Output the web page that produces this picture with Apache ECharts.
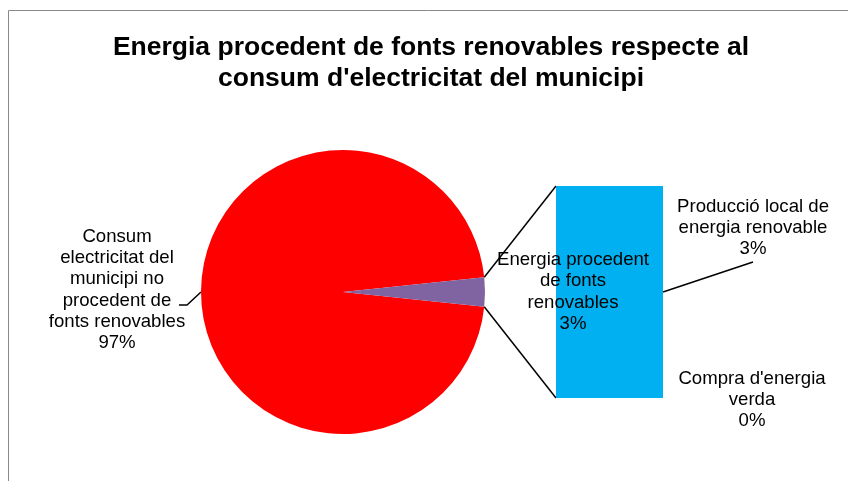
<!DOCTYPE html>
<html>
<head>
<meta charset="utf-8">
<script src="https://cdn.jsdelivr.net/npm/echarts@6/dist/echarts.min.js"></script>
<style>
  html, body { margin: 0; padding: 0; background: #fff; }
  #main { width: 848px; height: 481px; }
</style>
</head>
<body>
<div id="main"></div>
<script>
// dades
var titleText = "Energia procedent de fonts renovables respecte al\nconsum d'electricitat del municipi";
var pieNames = ['Consum\nelectricitat del\nmunicipi no\nprocedent de\nfonts renovables', 'Energia procedent\nde fonts\nrenovables'];
var pieValues = [96.7, 3.3];
var barNames = ['Producció local de\nenergia renovable', "Compra d'energia\nverda"];
var barValues = [3.3, 0];

var FONT = "'Liberation Sans', Arial, sans-serif";
var CX = 343, CY = 292, R = 142;
var BAR = { left: 556, top: 186, width: 107, height: 212 };

var total = pieValues[0] + pieValues[1];
var smallAngle = pieValues[1] / total * 360;
var startAngle = smallAngle / 2 + pieValues[0] / total * 360;

function pct(v) { return Math.round(v / total * 100) + '%'; }

var myChart = echarts.init(document.getElementById('main'));

// linies que uneixen el pastis amb la barra
var a = smallAngle / 2 * Math.PI / 180;
var pTop = [CX + R * Math.cos(a), CY - R * Math.sin(a)];
var pBot = [CX + R * Math.cos(a), CY + R * Math.sin(a)];

var option = {
  animation: false,
  title: {
    text: titleText,
    left: 431,
    top: 32,
    padding: 0,
    textAlign: 'center',
    textStyle: { fontFamily: FONT, fontSize: 26.5, fontWeight: 'bold', lineHeight: 31, color: '#000' }
  },
  grid: { left: BAR.left, top: BAR.top, width: BAR.width, height: BAR.height },
  xAxis: { type: 'category', data: ['a'], show: false },
  yAxis: { type: 'value', min: 0, max: barValues[0] + barValues[1], show: false },
  series: [
    {
      type: 'pie',
      center: [CX, CY],
      radius: R,
      startAngle: startAngle,
      clockwise: true,
      avoidLabelOverlap: false,
      data: [
        { name: pieNames[0], value: pieValues[0], itemStyle: { color: '#FF0000' } },
        { name: pieNames[1], value: pieValues[1], itemStyle: { color: '#8064A2' }, labelLine: { show: false } }
      ],
      label: {
        show: true,
        position: 'outside',
        formatter: function (p) { return p.name + '\n' + pct(p.value); },
        fontFamily: FONT, fontSize: 18.6, lineHeight: 21.3, color: '#000', align: 'center'
      },
      labelLine: { show: true, length: 10, length2: 10, lineStyle: { color: '#000', width: 1.5 } },
      labelLayout: function (p) {
        if (p.dataIndex === 0) {
          var p0 = p.labelLinePoints ? p.labelLinePoints[0] : [CX - R, CY];
          return {
            x: 117, y: 290, align: 'center', verticalAlign: 'middle',
            labelLinePoints: [p0, [p0[0] - 14, p0[1] + 13], [p0[0] - 22, p0[1] + 13]]
          };
        }
        return { x: 573, y: 292, align: 'center', verticalAlign: 'middle' };
      }
    },
    {
      type: 'bar',
      stack: 'r',
      name: barNames[0],
      barWidth: '100%',
      data: [barValues[0]],
      itemStyle: { color: '#00B0F0' },
      label: {
        show: true,
        formatter: function (p) { return p.seriesName + '\n' + pct(p.value); },
        fontFamily: FONT, fontSize: 18.6, lineHeight: 21.3, color: '#000', align: 'center'
      },
      labelLayout: { x: 753, y: 228, align: 'center', verticalAlign: 'middle' }
    },
    {
      type: 'bar',
      stack: 'r',
      name: barNames[1],
      barWidth: '100%',
      data: [barValues[1]],
      itemStyle: { color: '#4BACC6' },
      label: {
        show: true,
        formatter: function (p) { return p.seriesName + '\n' + pct(p.value); },
        fontFamily: FONT, fontSize: 18.6, lineHeight: 21.3, color: '#000', align: 'center'
      },
      labelLayout: { x: 752, y: 400, align: 'center', verticalAlign: 'middle' }
    }
  ]
};
myChart.setOption(option);

var midY = myChart.convertToPixel({ gridIndex: 0 }, [0, barValues[0] / 2])[1];
myChart.setOption({
  graphic: [
    { type: 'rect', shape: { x: 8.5, y: 10.5, width: 900, height: 600 }, style: { fill: null, stroke: '#898989', lineWidth: 1 }, z: -1 },
    { type: 'line', shape: { x1: pTop[0], y1: pTop[1], x2: BAR.left, y2: BAR.top }, style: { stroke: '#000', lineWidth: 1.5 } },
    { type: 'line', shape: { x1: pBot[0], y1: pBot[1], x2: BAR.left, y2: BAR.top + BAR.height }, style: { stroke: '#000', lineWidth: 1.5 } },
    { type: 'line', shape: { x1: BAR.left + BAR.width, y1: midY, x2: 753, y2: 262 }, style: { stroke: '#000', lineWidth: 1.5 } }
  ]
});
</script>
</body>
</html>
